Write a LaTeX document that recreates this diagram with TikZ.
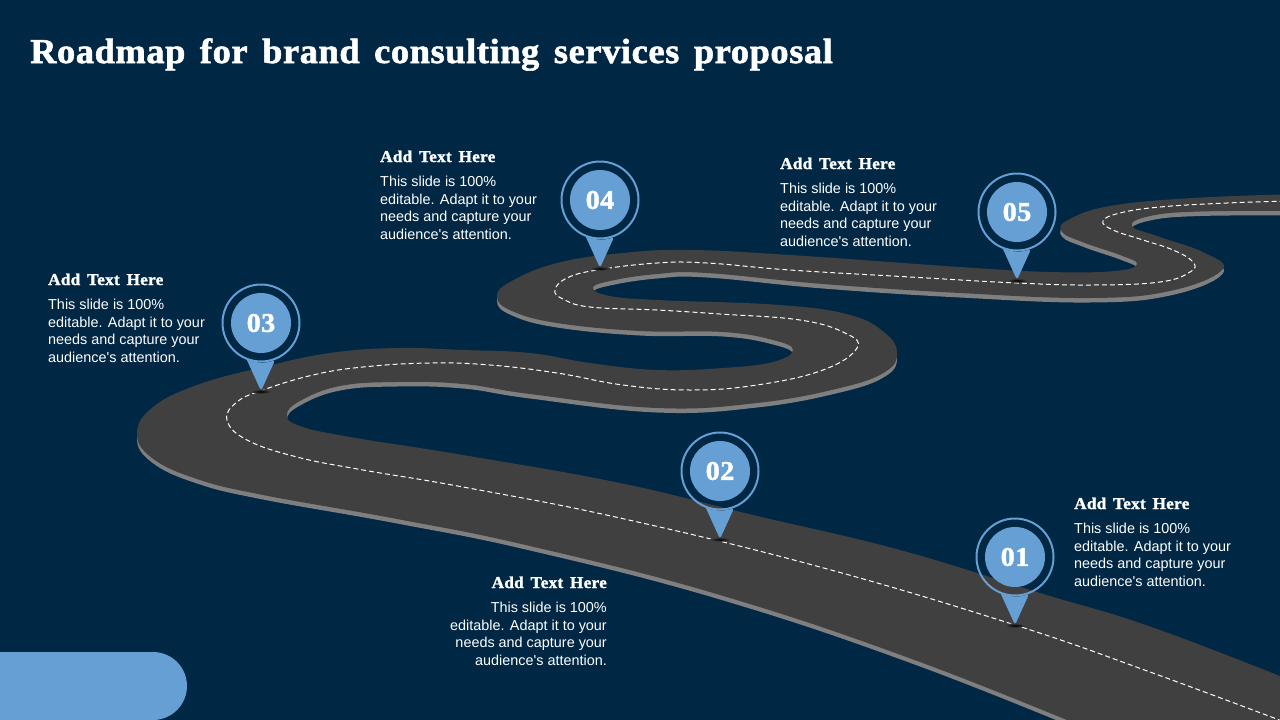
\documentclass[tikz,border=0pt]{standalone}
\usepackage{fontspec}
\setmainfont{Liberation Sans}
\newfontfamily\headfont[LetterSpace=1.7,WordSpace=1.5,FakeBold=1.6,FakeStretch=1.04]{Liberation Serif}
\definecolor{pagebg}{HTML}{002744}
\definecolor{roadfill}{HTML}{404040}
\definecolor{roadside}{HTML}{7F7F7F}
\definecolor{pinblue}{HTML}{659FD3}
\tikzset{
  pinring/.style={circle,draw=pinblue,line width=2pt,minimum size=77pt,inner sep=0pt},
  pindisc/.style={circle,fill=pinblue,minimum size=60pt,inner sep=0pt,text=white,
    font=\headfont\bfseries\fontsize{27}{27}\selectfont},
  headtext/.style={text=white,inner sep=0pt,font=\headfont\bfseries\fontsize{16.5}{20}\selectfont},
  bodytext/.style={text=white,inner sep=0pt,align=left,font=\fontsize{14.4}{17.6}\selectfont},
}
\def\bodylines{This slide is 100\%\\editable. Adapt it to your\\needs and capture your\\audience\textquotesingle s attention.}
% outline of the road, both sides
\def\roadpath{plot[smooth,tension=.7] coordinates {(1340,700) (1160,630) (1040,593) (900,550)
    (753,515) (620,483) (463,455) (350,437) (300,426) (287,415) (300,401) (340,386)
    (397,382) (463,384) (530,394) (657,408) (757,403) (840,388) (885,372) (897,353)
    (885,333) (850,315) (780,305) (657,300) (610,296) (593,288) (610,281) (657,274)
    (707,273) (823,284) (960,293) (1090,298) (1170,291) (1222,270) (1205,253) (1160,237)
    (1132,226) (1150,216) (1200,211.5) (1300,211)}
  -- plot[smooth,tension=.7] coordinates {(1300,194) (1193,198) (1110,206) (1068,220)
    (1062,232) (1085,243) (1120,255) (1137,264) (1115,271) (1050,272) (960,267) (790,255)
    (690,250) (623,253) (557,263) (510,282) (497,297) (512,311) (557,323) (640,331)
    (723,332) (773,340) (793,350) (773,362) (723,368) (657,370) (590,363) (530,353)
    (463,350) (397,348) (330,353) (263,367) (197,385) (153,407) (137,433) (152,458)
    (197,479) (263,495) (397,519) (530,546) (720,595) (920,662) (1120,742)}
  -- (1340,742) -- cycle}
\begin{document}
\begin{tikzpicture}[x=1pt,y=-1pt]
  \useasboundingbox (0,0) rectangle (1280,720);
  \clip (0,0) rectangle (1280,720);
  \fill[pagebg] (0,0) rectangle (1280,720);
  \fill[pinblue,rounded corners=34pt] (-60,652) rectangle (187,720);
  % road
  \fill[roadside,shift={(0,4.5)}] \roadpath;
  \fill[roadfill] \roadpath;
  \draw[white,line width=1pt,dash pattern=on 5pt off 3pt]
    plot[smooth,tension=.7] coordinates {(1290,724) (1150,672) (1015,625) (820,567) (620,518)
    (463,487) (363,470) (297,457) (247,440) (227,420) (237,402) (263,390) (313,375)
    (363,367) (430,363) (490,365) (557,373) (623,385) (690,390) (757,385) (823,370)
    (857,348) (845,333) (800,320) (720,314) (657,310) (590,307) (563,299) (555,290)
    (567,278) (597,270) (657,263) (707,263) (790,270) (910,277) (1017,283) (1093,285)
    (1160,282) (1190,272) (1193,262) (1173,250) (1143,240) (1113,230) (1103,221)
    (1120,213) (1160,207) (1227,203) (1290,201)};
  % pins
  \foreach \px/\py/\n in {1015/557/01,720/471/02,261/323/03,600/200/04,1017/212/05}{
    \begin{scope}[shift={(\px,\py)}]
      \shade[inner color=black,outer color=roadfill] (0,68.5) ellipse [x radius=10,y radius=2.2];
      \node[pinring] (ring\n) at (0,0) {};
      \node[pindisc] (disc\n) at (0,0) {\n};
      \fill[pinblue,rounded corners=3pt] (ring\n.249) -- (0,68) -- (ring\n.291)
        arc[start angle=69,end angle=111,radius=38.5];
    \end{scope}
  }
  % texts
  \node[anchor=base west,text=white,inner sep=0pt,font=\headfont\bfseries\fontsize{35}{38}\selectfont] (title) at (30,63) {Roadmap for brand consulting services proposal};
  \foreach \x/\y/\n in {48/285/three,380/162/four,780/169/five,1074/509/one}{
    \node[headtext,anchor=base west] (head\n) at (\x,\y) {Add Text Here};
    \node[bodytext,anchor=north west] (body\n) at (\x,\y+14) {\bodylines};
  }
  \node[headtext,anchor=base east] (headtwo) at (607,588) {Add Text Here};
  \node[bodytext,align=right,anchor=north east] (bodytwo) at (607,602) {\bodylines};
\end{tikzpicture}
\end{document}
